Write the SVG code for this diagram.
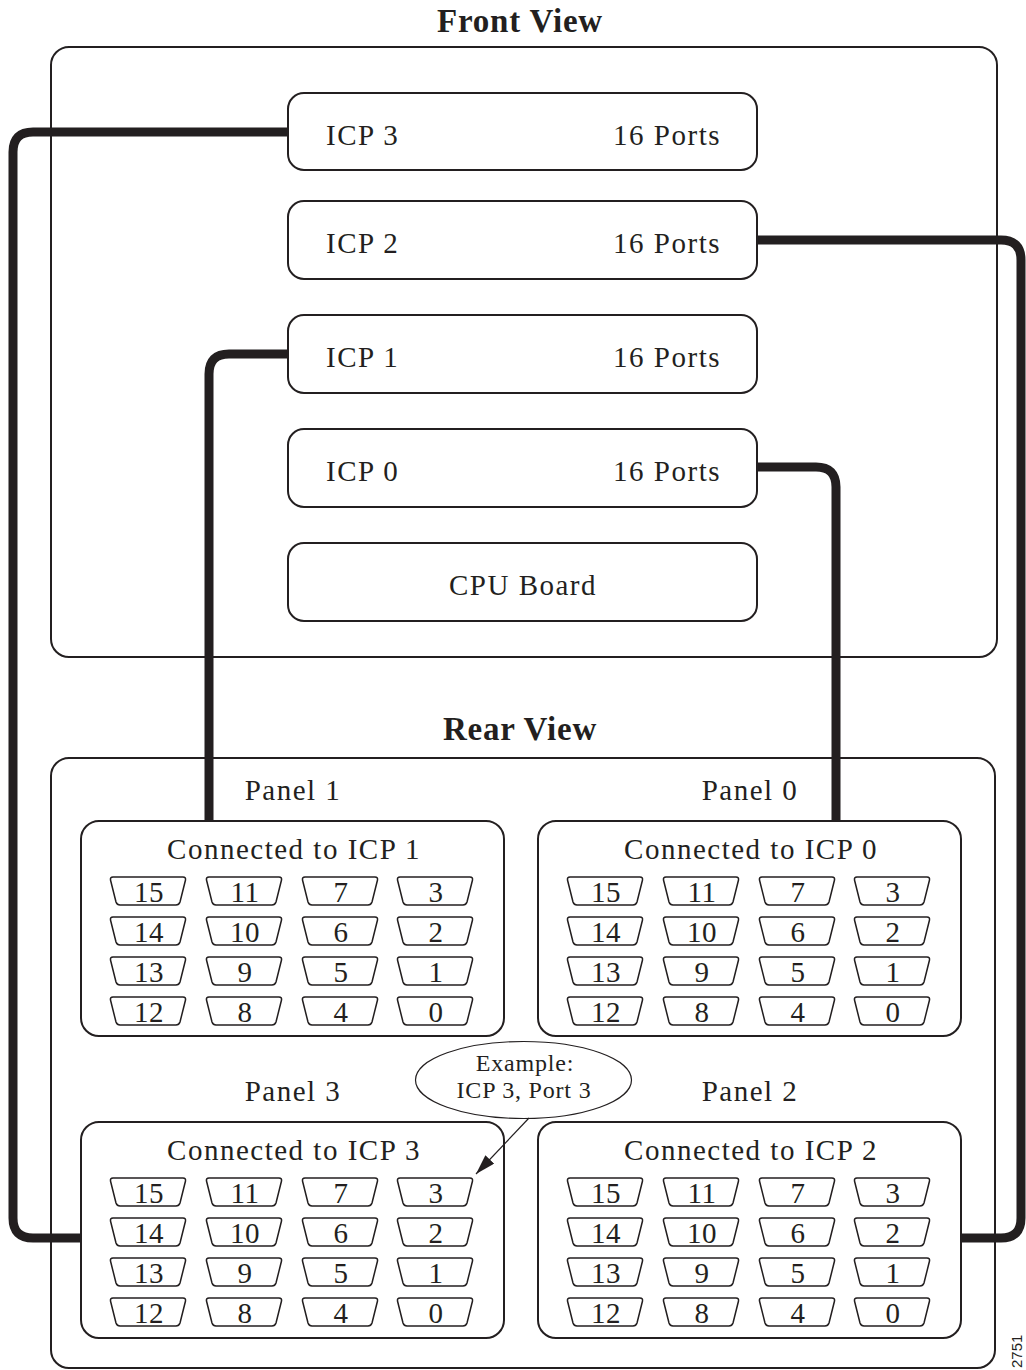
<svg xmlns="http://www.w3.org/2000/svg" width="1026" height="1370" viewBox="0 0 1026 1370">
<style>
.box{fill:#fff;stroke:#231f20;stroke-width:2}
.t{font-family:"Liberation Serif",serif;fill:#231f20}
.title{font-size:33px;font-weight:bold;text-anchor:middle;letter-spacing:0.8px}
.lbl{font-size:29px;letter-spacing:1.5px}
.mid{text-anchor:middle}
.end{text-anchor:end}
.num{font-size:29px;text-anchor:middle;letter-spacing:0.5px}
.small{font-size:24px;letter-spacing:0.8px;text-anchor:middle}
.wire{fill:none;stroke:#231f20;stroke-width:9}
.port{fill:#fff;stroke:#231f20;stroke-width:1.5}
</style>
<defs>
<path id="port" class="port" d="M3,0 L73,0 Q76,0 75.5,3 L70,25 Q69,28 66,28 L10,28 Q7,28 6,25 L0.5,3 Q0,0 3,0 Z"/>
<g id="grid">
<use href="#port" x="29" y="56"/><use href="#port" x="125" y="56"/><use href="#port" x="221" y="56"/><use href="#port" x="316" y="56"/>
<use href="#port" x="29" y="96"/><use href="#port" x="125" y="96"/><use href="#port" x="221" y="96"/><use href="#port" x="316" y="96"/>
<use href="#port" x="29" y="136"/><use href="#port" x="125" y="136"/><use href="#port" x="221" y="136"/><use href="#port" x="316" y="136"/>
<use href="#port" x="29" y="176"/><use href="#port" x="125" y="176"/><use href="#port" x="221" y="176"/><use href="#port" x="316" y="176"/>
<g class="t num">
<text x="68" y="81">15</text><text x="164" y="81">11</text><text x="260" y="81">7</text><text x="355" y="81">3</text>
<text x="68" y="121">14</text><text x="164" y="121">10</text><text x="260" y="121">6</text><text x="355" y="121">2</text>
<text x="68" y="161">13</text><text x="164" y="161">9</text><text x="260" y="161">5</text><text x="355" y="161">1</text>
<text x="68" y="201">12</text><text x="164" y="201">8</text><text x="260" y="201">4</text><text x="355" y="201">0</text>
</g>
</g>
<marker id="ah" markerWidth="20" markerHeight="12" refX="20" refY="6" orient="auto" markerUnits="userSpaceOnUse" viewBox="0 0 20 12">
<path d="M0,0 L20,6 L0,12 Z" fill="#231f20"/>
</marker>
</defs>
<rect width="1026" height="1370" fill="#fff"/>

<text class="t title" x="520" y="32">Front View</text>
<g id="front-view"><rect class="box" x="51" y="47" width="946" height="610" rx="18"/></g>

<text class="t title" x="520" y="740">Rear View</text>
<g id="rear-view"><rect class="box" x="51" y="758" width="944" height="610" rx="18"/></g>

<g id="icp3"><rect class="box" x="288" y="93" width="469" height="77" rx="16"/>
<text class="t lbl" x="326" y="145">ICP 3</text><text class="t lbl end" x="721" y="145">16 Ports</text></g>
<g id="icp2"><rect class="box" x="288" y="201" width="469" height="78" rx="16"/>
<text class="t lbl" x="326" y="253">ICP 2</text><text class="t lbl end" x="721" y="253">16 Ports</text></g>
<g id="icp1"><rect class="box" x="288" y="315" width="469" height="78" rx="16"/>
<text class="t lbl" x="326" y="367">ICP 1</text><text class="t lbl end" x="721" y="367">16 Ports</text></g>
<g id="icp0"><rect class="box" x="288" y="429" width="469" height="78" rx="16"/>
<text class="t lbl" x="326" y="481">ICP 0</text><text class="t lbl end" x="721" y="481">16 Ports</text></g>
<g id="cpu"><rect class="box" x="288" y="543" width="469" height="78" rx="16"/>
<text class="t lbl mid" x="523" y="595">CPU Board</text></g>

<g id="panel1">
<text class="t lbl mid" x="293" y="800">Panel 1</text>
<rect class="box" x="81" y="821" width="423" height="215" rx="18"/>
<text class="t lbl mid" x="294" y="859">Connected to ICP 1</text>
<use href="#grid" x="81" y="821"/>
</g>
<g id="panel0">
<text class="t lbl mid" x="750" y="800">Panel 0</text>
<rect class="box" x="538" y="821" width="423" height="215" rx="18"/>
<text class="t lbl mid" x="751" y="859">Connected to ICP 0</text>
<use href="#grid" x="538" y="821"/>
</g>
<g id="panel3">
<text class="t lbl mid" x="293" y="1101">Panel 3</text>
<rect class="box" x="81" y="1122" width="423" height="216" rx="18"/>
<text class="t lbl mid" x="294" y="1160">Connected to ICP 3</text>
<use href="#grid" x="81" y="1122"/>
</g>
<g id="panel2">
<text class="t lbl mid" x="750" y="1101">Panel 2</text>
<rect class="box" x="538" y="1122" width="423" height="216" rx="18"/>
<text class="t lbl mid" x="751" y="1160">Connected to ICP 2</text>
<use href="#grid" x="538" y="1122"/>
</g>

<g id="example">
<ellipse cx="523.5" cy="1080" rx="108" ry="38.5" fill="#fff" stroke="#231f20" stroke-width="1.2"/>
<text class="t small" x="525" y="1071">Example:</text>
<text class="t small" x="524" y="1098">ICP 3, Port 3</text>
</g>

<g id="connectors">
<path class="wire" d="M288,132 H33 Q13,132 13,152 V1218 Q13,1238 33,1238 H81"/>
<path class="wire" d="M757,240 H1001 Q1021,240 1021,260 V1218 Q1021,1238 1001,1238 H961"/>
<path class="wire" d="M288,354 H229 Q209,354 209,374 V821"/>
<path class="wire" d="M757,467 H816 Q836,467 836,487 V821"/>
<line x1="529" y1="1118" x2="476" y2="1174" stroke="#231f20" stroke-width="1.2" marker-end="url(#ah)"/>
</g>

<text font-family="Liberation Sans, Arial, sans-serif" font-size="15" fill="#231f20" transform="translate(1022,1368) rotate(-90)">2751</text>
</svg>
